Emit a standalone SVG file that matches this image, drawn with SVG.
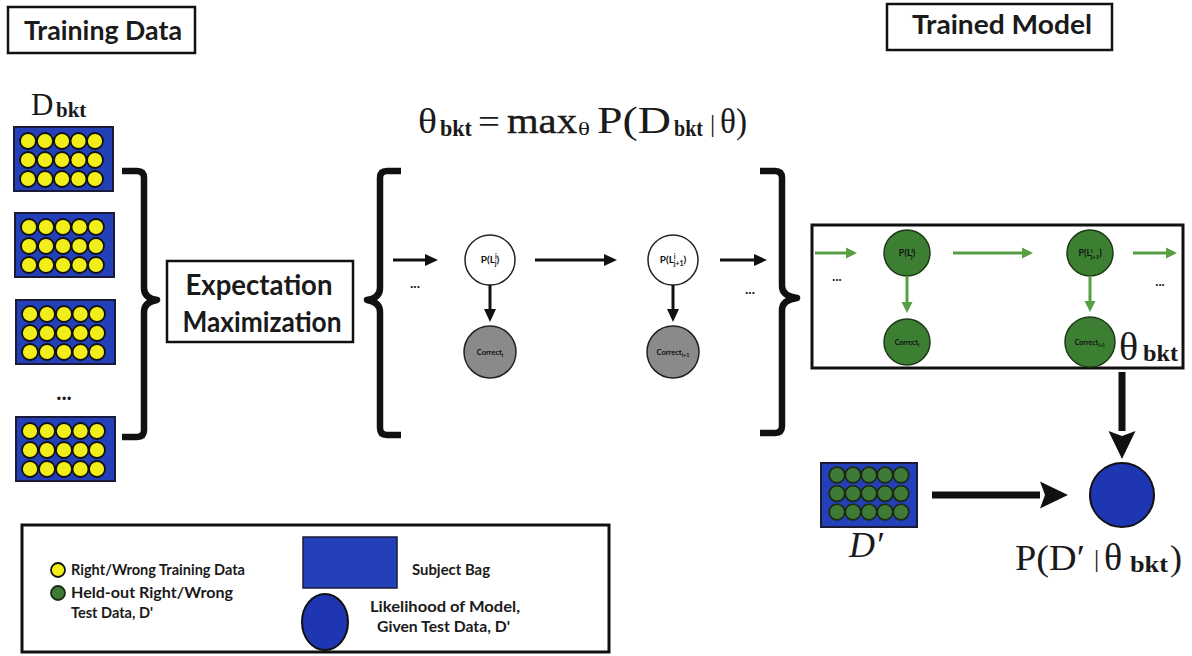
<svg xmlns="http://www.w3.org/2000/svg" width="1192" height="656" viewBox="0 0 1192 656">
<style>
.sans{font-family:Lato,"Liberation Sans",sans-serif;font-weight:bold;fill:#1a1a1a}
.serif{font-family:"Liberation Serif","DejaVu Serif",serif;fill:#1a1a1a}
.sub{font-family:"Liberation Serif","DejaVu Serif",serif;font-weight:bold;fill:#1a1a1a}
.frame{fill:#fff;stroke:#111;stroke-width:2.5}
.brace{fill:none;stroke:#111;stroke-width:6.5;stroke-linejoin:round;stroke-linecap:butt}
.blk{fill:none;stroke:#111;stroke-width:3}
.thick{fill:none;stroke:#111;stroke-width:7}
.grn{fill:none;stroke:#55a045;stroke-width:3}
.bag{fill:#2340b8;stroke:#1a1a3a;stroke-width:2}
.yel{fill:#f2ee1c;stroke:#111;stroke-width:1.8}
.gdot{fill:#3f7a36;stroke:#1a2a14;stroke-width:1.8}
.hid{fill:#fff;stroke:#222;stroke-width:1.5}
.obs{fill:#8a8a8a;stroke:#222;stroke-width:1.5}
.gnode{fill:#3c7e32;stroke:#1d3a17;stroke-width:1.5}
.tiny{font-family:Lato,"Liberation Sans",sans-serif;font-weight:bold;fill:#111}
.leg{font-family:Lato,"Liberation Sans",sans-serif;font-weight:bold;fill:#1a1a1a;font-size:15.5px}
</style>
<defs>
<marker id="hb" markerUnits="userSpaceOnUse" markerWidth="14" markerHeight="14" viewBox="0 0 14 14" refX="0" refY="7" orient="auto"><path d="M0,1 L13,7 L0,13 z" fill="#111"/></marker>
<marker id="hg" markerUnits="userSpaceOnUse" markerWidth="13" markerHeight="13" viewBox="0 0 13 13" refX="0" refY="6.5" orient="auto"><path d="M0,1 L11,6.5 L0,12 z" fill="#55a045"/></marker>
<marker id="ht" markerUnits="userSpaceOnUse" markerWidth="30" markerHeight="30" viewBox="0 0 30 30" refX="0" refY="15" orient="auto"><path d="M0,1.5 L28,15 L0,28.5 L5,15 z" fill="#111"/></marker>
<g id="ygrid">
<rect class="bag" x="0" y="0" width="99" height="64"/>
<circle class="yel" cx="14" cy="14" r="8"/><circle class="yel" cx="31" cy="14" r="8"/><circle class="yel" cx="48" cy="14" r="8"/><circle class="yel" cx="64.5" cy="14" r="8"/><circle class="yel" cx="81" cy="14" r="8"/>
<circle class="yel" cx="14" cy="33" r="8"/><circle class="yel" cx="31" cy="33" r="8"/><circle class="yel" cx="48" cy="33" r="8"/><circle class="yel" cx="64.5" cy="33" r="8"/><circle class="yel" cx="81" cy="33" r="8"/>
<circle class="yel" cx="14" cy="52" r="8"/><circle class="yel" cx="31" cy="52" r="8"/><circle class="yel" cx="48" cy="52" r="8"/><circle class="yel" cx="64.5" cy="52" r="8"/><circle class="yel" cx="81" cy="52" r="8"/>
</g>
</defs>
<rect width="1192" height="656" fill="#fff"/>

<g id="training-data-label">
<rect class="frame" x="8" y="7" width="187" height="46"/>
<text class="sans" x="103" y="40" font-size="26" text-anchor="middle" textLength="158" lengthAdjust="spacingAndGlyphs">Training Data</text>
</g>

<g id="trained-model-label">
<rect class="frame" x="887" y="4" width="225" height="46"/>
<text class="sans" x="1002" y="34" font-size="26" text-anchor="middle" textLength="180" lengthAdjust="spacingAndGlyphs">Trained Model</text>
</g>

<g id="d-bkt-label">
<text class="serif" x="31" y="115" font-size="31">D</text>
<text class="sub" x="56" y="117" font-size="21">bkt</text>
</g>

<g id="training-bags">
<use href="#ygrid" x="14" y="127"/>
<use href="#ygrid" x="15" y="213"/>
<use href="#ygrid" x="16" y="300"/>
<text class="sans" x="64" y="400" font-size="22" text-anchor="middle">...</text>
<use href="#ygrid" x="16" y="417"/>
</g>

<g id="brace-left">
<path class="brace" d="M122,171 H137 Q144,171 144,178 V288 Q144,298 157,300 Q144,302 144,312 V430 Q144,437 137,437 H122"/>
</g>

<g id="em-box">
<rect class="frame" x="167" y="261" width="186" height="81"/>
<text class="sans" x="259" y="295" font-size="28" text-anchor="middle" textLength="147" lengthAdjust="spacingAndGlyphs">Expectation</text>
<text class="sans" x="262" y="332" font-size="28" text-anchor="middle" textLength="159" lengthAdjust="spacingAndGlyphs">Maximization</text>
</g>

<g id="equation">
<text class="serif" x="418" y="133" font-size="35" textLength="19" lengthAdjust="spacingAndGlyphs">θ</text>
<text class="sub" x="440" y="136" font-size="23" textLength="32" lengthAdjust="spacingAndGlyphs">bkt</text>
<text class="serif" x="478" y="133" font-size="34" textLength="22" lengthAdjust="spacingAndGlyphs">=</text>
<text class="serif" x="507" y="133" font-size="36" textLength="70" lengthAdjust="spacingAndGlyphs" stroke="#1a1a1a" stroke-width="0.4">max</text>
<text class="serif" x="578" y="135" font-size="19" textLength="12" lengthAdjust="spacingAndGlyphs">θ</text>
<text class="serif" x="597" y="133" font-size="37" textLength="74" lengthAdjust="spacingAndGlyphs">P(D</text>
<text class="sub" x="674" y="136" font-size="23" textLength="29" lengthAdjust="spacingAndGlyphs">bkt</text>
<text class="serif" x="710" y="132" font-size="26">|</text>
<text class="serif" x="720" y="133" font-size="36" textLength="27" lengthAdjust="spacingAndGlyphs">θ)</text>
</g>

<g id="brace-hmm-open">
<path class="brace" d="M401,171 H387 Q380,171 380,178 V288 Q380,298 367,300 Q380,302 380,312 V428 Q380,435 387,435 H401"/>
</g>
<g id="brace-hmm-close">
<path class="brace" d="M760,171 H775 Q782,171 782,178 V286 Q782,296 797,298 Q782,300 782,310 V426 Q782,433 775,433 H760"/>
</g>

<g id="hmm-dots">
<text class="sans" x="415" y="288" font-size="14" text-anchor="middle">...</text>
<text class="sans" x="750" y="294" font-size="14" text-anchor="middle">...</text>
</g>

<g id="hmm-L1">
<circle class="hid" cx="490" cy="260" r="25"/>
<text class="tiny" x="490" y="263" font-size="10" text-anchor="middle">P(L<tspan font-size="7" dy="-4">i</tspan><tspan font-size="7" dx="-2" dy="7">j</tspan><tspan dy="-3">)</tspan></text>
</g>
<g id="hmm-C1">
<circle class="obs" cx="490" cy="352" r="26"/>
<text class="tiny" x="490" y="355" font-size="7.5" text-anchor="middle">Correct<tspan font-size="5.5" dy="2">i</tspan></text>
</g>
<g id="hmm-L2">
<circle class="hid" cx="673" cy="260" r="25"/>
<text class="tiny" x="673" y="263" font-size="10" text-anchor="middle">P(L<tspan font-size="7" dy="-4">i</tspan><tspan font-size="7" dx="-2" dy="7">j+1</tspan><tspan dy="-3">)</tspan></text>
</g>
<g id="hmm-C2">
<circle class="obs" cx="673" cy="352" r="26"/>
<text class="tiny" x="673" y="355" font-size="7.5" text-anchor="middle">Correct<tspan font-size="5.5" dy="2">i+1</tspan></text>
</g>

<g id="trained-model">
<rect x="812" y="225" width="371" height="143" fill="none" stroke="#111" stroke-width="3"/>
<text class="sans" x="837" y="281" font-size="13" text-anchor="middle">...</text>
<text class="sans" x="1160" y="286" font-size="13" text-anchor="middle">...</text>
</g>
<g id="tm-L1">
<circle class="gnode" cx="907" cy="253" r="23"/>
<text class="tiny" x="907" y="256" font-size="9" text-anchor="middle">P(L<tspan font-size="6" dy="-3">i</tspan><tspan font-size="6" dx="-2" dy="6">j</tspan><tspan dy="-3">)</tspan></text>
</g>
<g id="tm-C1">
<circle class="gnode" cx="907" cy="342" r="23"/>
<text class="tiny" x="907" y="345" font-size="7" text-anchor="middle">Correct<tspan font-size="5" dy="2">i</tspan></text>
</g>
<g id="tm-L2">
<circle class="gnode" cx="1090" cy="253" r="23"/>
<text class="tiny" x="1090" y="256" font-size="9" text-anchor="middle">P(L<tspan font-size="6" dy="-3">i</tspan><tspan font-size="6" dx="-2" dy="6">j+1</tspan><tspan dy="-3">)</tspan></text>
</g>
<g id="tm-C2">
<circle class="gnode" cx="1090" cy="342" r="25"/>
<text class="tiny" x="1090" y="345" font-size="7" text-anchor="middle">Correct<tspan font-size="5" dy="2">i+1</tspan></text>
</g>
<g id="theta-bkt">
<text class="serif" x="1119" y="360" font-size="40">θ</text>
<text class="sub" x="1143" y="361" font-size="24" textLength="35" lengthAdjust="spacingAndGlyphs">bkt</text>
</g>

<g id="test-bag">
<rect class="bag" x="821" y="463" width="96" height="64"/>
<circle class="gdot" cx="837" cy="475" r="7.8"/><circle class="gdot" cx="853" cy="475" r="7.8"/><circle class="gdot" cx="869" cy="475" r="7.8"/><circle class="gdot" cx="885" cy="475" r="7.8"/><circle class="gdot" cx="901" cy="475" r="7.8"/>
<circle class="gdot" cx="837" cy="493.5" r="7.8"/><circle class="gdot" cx="853" cy="493.5" r="7.8"/><circle class="gdot" cx="869" cy="493.5" r="7.8"/><circle class="gdot" cx="885" cy="493.5" r="7.8"/><circle class="gdot" cx="901" cy="493.5" r="7.8"/>
<circle class="gdot" cx="837" cy="512" r="7.8"/><circle class="gdot" cx="853" cy="512" r="7.8"/><circle class="gdot" cx="869" cy="512" r="7.8"/><circle class="gdot" cx="885" cy="512" r="7.8"/><circle class="gdot" cx="901" cy="512" r="7.8"/>
<text class="serif" x="866" y="557" font-size="36" font-style="italic" text-anchor="middle">D′</text>
</g>

<g id="likelihood">
<circle cx="1122" cy="495" r="32" fill="#1f36b2" stroke="#111" stroke-width="2"/>
<text class="serif" x="1015" y="570" font-size="36" textLength="70" lengthAdjust="spacingAndGlyphs">P(D′</text>
<text class="serif" x="1094" y="567" font-size="26">|</text>
<text class="serif" x="1104" y="570" font-size="38">θ</text>
<text class="sub" x="1130" y="572" font-size="24" textLength="38" lengthAdjust="spacingAndGlyphs">bkt</text>
<text class="serif" x="1170" y="570" font-size="36">)</text>
</g>

<g id="connectors">
<path class="blk" d="M393,260 H425" marker-end="url(#hb)"/>
<path class="blk" d="M535,260 H604" marker-end="url(#hb)"/>
<path class="blk" d="M720,260 H754" marker-end="url(#hb)"/>
<path class="blk" d="M490,285 V309" marker-end="url(#hb)"/>
<path class="blk" d="M673,285 V309" marker-end="url(#hb)"/>
<path class="grn" d="M815,253 H846" marker-end="url(#hg)"/>
<path class="grn" d="M953,253 H1022" marker-end="url(#hg)"/>
<path class="grn" d="M1133,253 H1166" marker-end="url(#hg)"/>
<path class="grn" d="M907,276 V302" marker-end="url(#hg)"/>
<path class="grn" d="M1090,276 V301" marker-end="url(#hg)"/>
<path class="thick" d="M1122,372 V431" marker-end="url(#ht)"/>
<path class="thick" d="M932,495 H1040" marker-end="url(#ht)"/>
</g>

<g id="legend">
<rect x="22" y="525" width="587" height="127" fill="#fff" stroke="#111" stroke-width="3"/>
<circle class="yel" cx="58" cy="570" r="7"/>
<text class="leg" x="71" y="575" textLength="174" lengthAdjust="spacingAndGlyphs">Right/Wrong Training Data</text>
<circle class="gdot" cx="58" cy="593" r="7"/>
<text class="leg" x="71" y="598" textLength="162" lengthAdjust="spacingAndGlyphs">Held-out Right/Wrong</text>
<text class="leg" x="71" y="618" textLength="82" lengthAdjust="spacingAndGlyphs">Test Data, D'</text>
<rect x="303" y="537" width="94" height="51" fill="#2340b8" stroke="#1a1a3a" stroke-width="1.5"/>
<text class="leg" x="412" y="575" textLength="78" lengthAdjust="spacingAndGlyphs">Subject Bag</text>
<ellipse cx="325" cy="622" rx="23" ry="28" fill="#1f36b2" stroke="#111" stroke-width="2"/>
<text class="leg" x="370" y="612" textLength="150" lengthAdjust="spacingAndGlyphs">Likelihood of Model,</text>
<text class="leg" x="377" y="632" textLength="133" lengthAdjust="spacingAndGlyphs">Given Test Data, D'</text>
</g>
</svg>
